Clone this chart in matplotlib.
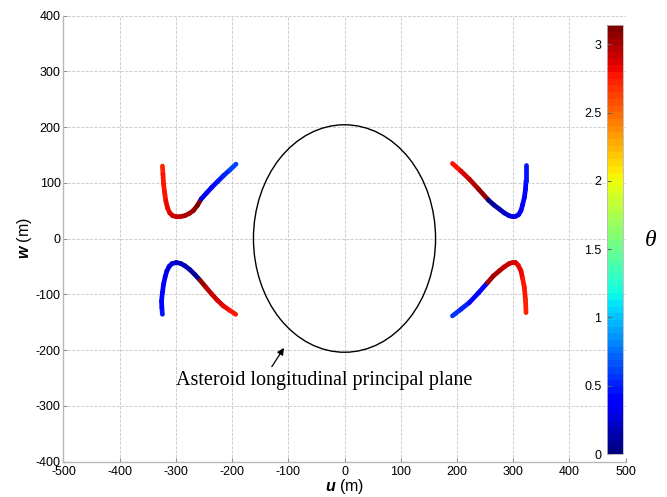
import numpy as np
import matplotlib
matplotlib.use('Agg')
import matplotlib.pyplot as plt
from matplotlib.collections import LineCollection
from matplotlib.patches import Ellipse

plt.rcParams['font.family'] = 'Liberation Sans'
plt.rcParams['mathtext.fontset'] = 'custom'
plt.rcParams['mathtext.it'] = 'Liberation Sans:italic:bold'
plt.rcParams['mathtext.rm'] = 'Liberation Sans'
plt.rcParams['axes.unicode_minus'] = False

# equilibrium branches: u, w (m) and theta (rad)
u_ul = [-324, -323, -322, -320, -318, -315, -311, -306, -299, -291, -284, -276, -269, -262, -255, -255, -246, -236, -226, -215.5, -204, -193]
w_ul = [130, 115, 98, 82, 68, 55, 46, 41, 39, 39.5, 41, 45, 50, 59, 71, 71, 81, 92, 102, 112.6, 123, 133.5]
t_ul = [2.72, 2.74, 2.76, 2.78, 2.8, 2.83, 2.86, 2.89, 2.92, 2.95, 2.98, 3.01, 3.04, 3.08, 3.12, 0.3, 0.35, 0.4, 0.45, 0.5, 0.56, 0.62]

u_ll = [-324, -325, -325.6, -324, -322, -319, -316, -312, -307, -299, -291, -284, -275, -266, -257, -257, -247, -236, -226, -215.5, -204, -193.6]
w_ll = [-136, -124, -112, -97, -82, -68, -58, -50, -45, -43, -45, -49, -56, -65, -75, -75, -87, -100, -111, -121, -129, -136]
t_ll = [0.45, 0.44, 0.42, 0.4, 0.38, 0.35, 0.33, 0.3, 0.28, 0.24, 0.21, 0.18, 0.13, 0.08, 0.04, 3.08, 3.02, 2.95, 2.9, 2.85, 2.8, 2.75]

u_ur = [192, 207, 222, 239, 256, 256, 266, 275.5, 284, 293, 300, 305, 310, 314, 317, 320, 322, 323, 323]
w_ur = [134.6, 121, 106.6, 88, 69, 69, 60, 52.8, 46, 40.8, 39, 40, 43, 50, 61, 73.6, 88, 103.6, 132]
t_ur = [2.75, 2.82, 2.9, 3.0, 3.1, 0.06, 0.1, 0.15, 0.2, 0.24, 0.27, 0.3, 0.33, 0.35, 0.38, 0.4, 0.42, 0.44, 0.47]

u_lr = [192, 207, 222, 238, 254.6, 254.6, 265, 275.5, 284, 293, 299, 304, 309, 314, 317, 320, 322, 323]
w_lr = [-138.8, -127, -115, -98, -79, -79, -67, -58, -51, -45, -43, -43, -48, -58, -72, -88, -110, -133]
t_lr = [0.62, 0.55, 0.48, 0.4, 0.32, 3.05, 3.01, 2.98, 2.95, 2.92, 2.9, 2.88, 2.85, 2.82, 2.8, 2.77, 2.75, 2.72]

# asteroid cross-section (semi-axes, m)
a_ast = 162
b_ast = 204

cmap = plt.get_cmap('jet', 64)
norm = plt.Normalize(0, np.pi)

fig = plt.figure(figsize=(6.67, 4.97), dpi=100)
ax = fig.add_axes([0.0952, 0.0714, 0.8426, 0.8974])

for u, w, t in [(u_ul, w_ul, t_ul), (u_ll, w_ll, t_ll), (u_ur, w_ur, t_ur), (u_lr, w_lr, t_lr)]:
    pts = np.column_stack([u, w])
    segs = np.stack([pts[:-1], pts[1:]], axis=1)
    t = np.array(t)
    # colour each segment by its mean angle, except across the 0/pi wrap
    tc = np.where(np.abs(np.diff(t)) > 1.5, t[:-1], 0.5 * (t[:-1] + t[1:]))
    lc = LineCollection(segs, cmap=cmap, norm=norm, linewidths=3.4, capstyle='round', joinstyle='round')
    lc.set_array(tc)
    ax.add_collection(lc)

ax.add_patch(Ellipse((0, 0), 2 * a_ast, 2 * b_ast, fill=False, color='black', lw=1.0))

ax.annotate('', xy=(-105, -192), xytext=(-132, -234),
            arrowprops=dict(arrowstyle='-|>', color='black', lw=0.9, mutation_scale=10))
ax.text(-299, -255, 'Asteroid longitudinal principal plane', family='Liberation Serif',
        fontsize=14.5, va='center', ha='left')

ax.set_xlim(-500, 500)
ax.set_ylim(-400, 400)
ax.set_xticks(np.arange(-500, 501, 100))
ax.set_yticks(np.arange(-400, 401, 100))
ax.grid(True, ls='--', color='#c8c8c8', lw=0.6)
ax.set_axisbelow(True)
for s in ['top', 'right']:
    ax.spines[s].set_visible(False)
for s in ['left', 'bottom']:
    ax.spines[s].set_color('#b8b8b8')
    ax.spines[s].set_linewidth(1.0)
ax.tick_params(direction='in', length=3, color='#909090', labelsize=9, pad=2)
ax.tick_params(axis='x', pad=3.5)
ax.set_xlabel(r'$u$ (m)', fontsize=11.5, labelpad=-1)
ax.set_ylabel(r'$w$ (m)', fontsize=11.5, labelpad=1)

cax = fig.add_axes([0.910, 0.0865, 0.024, 0.863])
sm = plt.cm.ScalarMappable(cmap=cmap, norm=norm)
cb = fig.colorbar(sm, cax=cax, ticks=np.arange(0, 3.01, 0.5))
cb.set_ticklabels(['0', '0.5', '1', '1.5', '2', '2.5', '3'])
cax.yaxis.set_ticks_position('left')
cax.yaxis.set_label_position('left')
cax.tick_params(labelsize=9, length=3, direction='in', color='#606060', pad=4)
cb.outline.set_edgecolor('#b8b8b8')
cb.outline.set_linewidth(0.6)
fig.text(0.975, 0.517, 'θ', family='Liberation Serif', style='italic', fontsize=17,
         ha='center', va='center')

fig.savefig('out.png', dpi=100)
